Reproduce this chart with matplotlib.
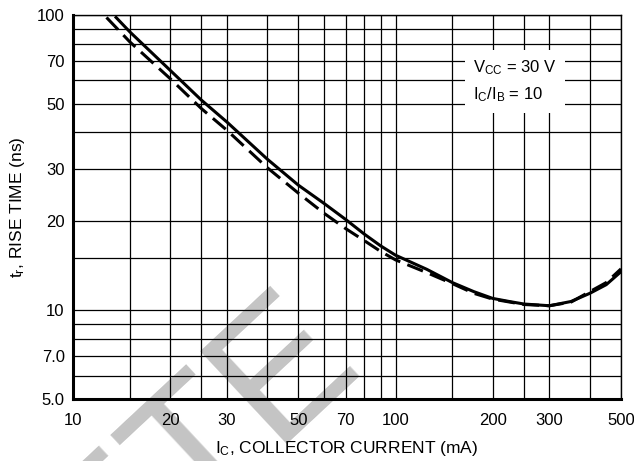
import numpy as np
import matplotlib
matplotlib.use("Agg")
import matplotlib.pyplot as plt

plt.rcParams['font.family'] = ['Liberation Sans', 'DejaVu Sans']
plt.rcParams['mathtext.default'] = 'regular'

# solid curve
ic_solid = [13.6, 15, 20, 25, 30, 40, 50, 60, 70, 80, 90, 100, 125, 150, 175,
            200, 225, 250, 300, 350, 400, 450, 500]
tr_solid = [98.1, 87.7, 65.0, 51.5, 43.4, 32.5, 26.5, 23.0, 20.3, 18.1, 16.5, 15.35, 13.75, 12.4, 11.55,
            10.96, 10.7, 10.49, 10.35, 10.7, 11.4, 12.2, 13.5]

# dashed curve
ic_dash = [12.7, 15, 20, 25, 30, 40, 50, 60, 70, 80, 90, 100, 125, 150, 175,
           200, 250, 300, 350, 400, 450, 500]
tr_dash = [98.1, 81.1, 60.9, 48.2, 40.7, 30.4, 24.9, 21.3, 18.9, 17.2, 15.8, 14.8, 13.4, 12.3, 11.4,
           10.9, 10.45, 10.35, 10.65, 11.55, 12.4, 13.8]

x_grid = [10, 15, 20, 25, 30, 40, 50, 60, 70, 80, 90, 100, 150, 200, 250, 300, 400, 500]
y_grid = [5, 6, 7, 8, 9, 10, 15, 20, 30, 40, 50, 60, 70, 80, 90, 100]
x_ticks = [10, 20, 30, 50, 70, 100, 200, 300, 500]
x_labels = ['10', '20', '30', '50', '70', '100', '200', '300', '500']
y_ticks = [5, 7, 10, 20, 30, 50, 70, 100]
y_labels = ['5.0', '7.0', '10', '20', '30', '50', '70', '100']

fig = plt.figure(figsize=(6.34, 4.61), dpi=100)
ax = fig.add_axes([73 / 634, 62 / 461, 548 / 634, 384 / 461])
ax.set_facecolor('none')

ax.set_xscale('log')
ax.set_yscale('log')
ax.set_xlim(10, 500)
ax.set_ylim(5, 100)

for xv in x_grid:
    ax.axvline(xv, color='black', lw=0.9, zorder=1)
for yv in y_grid:
    ax.axhline(yv, color='black', lw=0.9, zorder=1)

ax.plot(ic_solid, tr_solid, color='black', lw=2.2, zorder=3)
ax.plot(ic_dash, tr_dash, color='black', lw=2.2, dashes=(5.5, 2.5), zorder=3)

ax.set_xticks(x_ticks)
ax.set_xticklabels(x_labels)
ax.set_yticks(y_ticks)
ax.set_yticklabels(y_labels)
ax.minorticks_off()
ax.tick_params(length=0, labelsize=12)
ax.tick_params(axis='x', pad=10)
ax.tick_params(axis='y', pad=6)

ax.set_xlabel('$I_C$, COLLECTOR CURRENT (mA)', fontsize=12.5, labelpad=8)
ax.set_ylabel('$t_r$, RISE TIME (ns)', fontsize=12.5, labelpad=7)

for s in ['left', 'bottom']:
    ax.spines[s].set_linewidth(2.2)
for s in ['top', 'right']:
    ax.spines[s].set_linewidth(1.0)

ax.text(0.73, 0.827, '$V_{CC}$ = 30 V\n$I_C/I_B$ = 10', transform=ax.transAxes,
        fontsize=12, ha='left', va='center', linespacing=1.6, zorder=4,
        bbox=dict(facecolor='white', edgecolor='none', pad=6))

# grey watermark behind the grid
fig.text(364 / 634, 97 / 461, 'OBSOLETE', fontsize=132, color='#c4c4c4',
         family='Liberation Sans', rotation=43, rotation_mode='anchor',
         ha='right', va='baseline', zorder=-1)

fig.savefig('out.png', dpi=100)
